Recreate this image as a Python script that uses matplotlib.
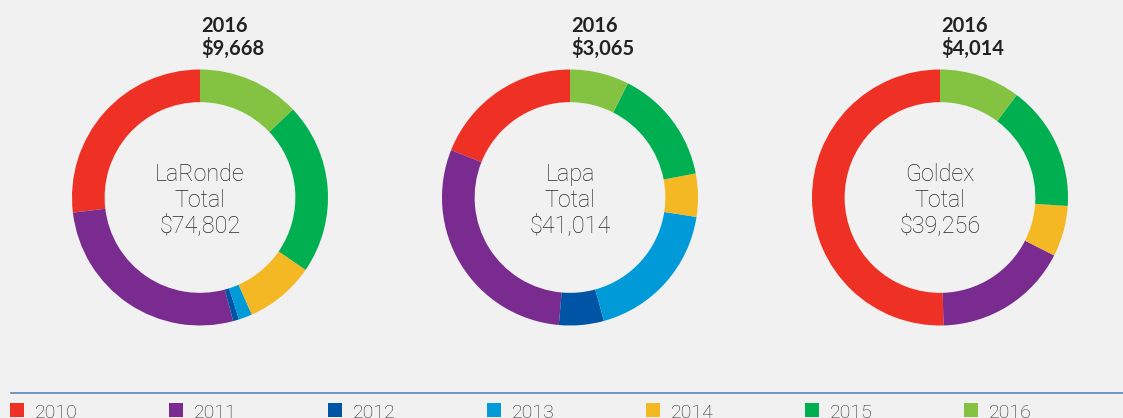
import matplotlib
matplotlib.use("Agg")
import matplotlib.pyplot as plt

W, H = 1123, 418
BG = "#f1f1f1"

years = ["2010", "2011", "2012", "2013", "2014", "2015", "2016"]
colors = ["#ee3124", "#7a2b8f", "#0054a6", "#009ad9", "#f3b824", "#00b050", "#84c341"]

mines = ["LaRonde", "Lapa", "Goldex"]
totals = ["$74,802", "$41,014", "$39,256"]
latest = ["$9,668", "$3,065", "$4,014"]

laronde = [20110, 20420, 560, 1270, 6590, 16184, 9668]
lapa = [7778, 12156, 2324, 7508, 2233, 5950, 3065]
goldex = [19802, 6706, 0, 0, 2519, 6215, 4014]
values = [laronde, lapa, goldex]

centers_x = [200, 570, 940]
center_y = 197.5
R = 128

fig = plt.figure(figsize=(W / 100, H / 100), dpi=100)
fig.patch.set_facecolor(BG)

def fx(x):
    return x / W

def fy(y):
    return 1 - y / H

LIGHT = ["Roboto", "DejaVu Sans"]
BOLD = ["Lato", "DejaVu Sans"]
TXT = "#2a2a2a"

for i, (name, tot, last, vals) in enumerate(zip(mines, totals, latest, values)):
    cx = centers_x[i]
    ax = fig.add_axes([fx(cx - R), fy(center_y + R), 2 * R / W, 2 * R / H])
    ax.set_facecolor("none")
    ax.pie(vals, colors=colors, startangle=90, counterclock=True, radius=1,
           wedgeprops=dict(width=0.255, linewidth=0))
    ax.set_xlim(-1, 1)
    ax.set_ylim(-1, 1)
    ax.set_aspect("auto")
    ax.axis("off")
    for line, yb in zip([name, "Total", tot], [180.5, 206.5, 232.5]):
        fig.text(fx(cx), fy(yb), line, ha="center", va="baseline",
                 fontsize=16.8, family=LIGHT, fontweight="light", color=TXT)
    fig.text(fx(cx + 1), fy(31.5), "2016", ha="left", va="baseline",
             fontsize=14.5, family=BOLD, fontweight="bold", color="#222222")
    fig.text(fx(cx + 1), fy(55), last, ha="left", va="baseline",
             fontsize=14.5, family=BOLD, fontweight="bold", color="#222222")

# separator line
fig.add_artist(plt.Line2D([fx(11), 1], [fy(393.3), fy(393.3)], color="#5b86b8",
                          linewidth=1.2, transform=fig.transFigure))

# legend
leg_x0 = 10
leg_dx = 159
for j, (yr, c) in enumerate(zip(years, colors)):
    x = leg_x0 + j * leg_dx
    fig.add_artist(plt.Rectangle((fx(x), fy(417)), 13.5 / W, 14 / H,
                                 facecolor=c, edgecolor="none",
                                 transform=fig.transFigure))
    fig.text(fx(x + 25), fy(418), yr, ha="left", va="baseline",
             fontsize=14, family=LIGHT, fontweight="light", color=TXT)

fig.savefig("out.png", dpi=100, facecolor=BG)
